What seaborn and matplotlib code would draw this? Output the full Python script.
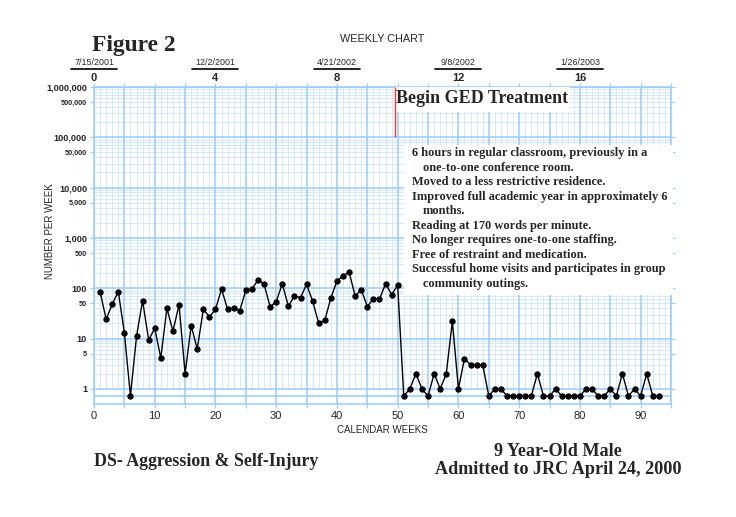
import numpy as np
import pandas as pd
import seaborn as sns
import matplotlib.pyplot as plt
from matplotlib.patches import Rectangle
from matplotlib.lines import Line2D

# ---------------- data ----------------
weeks = list(range(1, 94))
counts = [86, 24, 48, 86, 13, 0, 11, 57, 9.3, 16,
          4.1, 40, 14, 47, 2, 18, 6.2, 38, 27, 38,
          96, 38, 41, 36, 91, 96, 146, 120, 43, 54,
          123, 44, 70, 65, 120, 55, 20, 23, 64, 140,
          175, 210, 70, 94, 43, 62, 60, 123, 75, 114,
          0, 1, 2, 1, 0, 2, 1, 2, 22, 1,
          4, 3, 3, 3, 0, 1, 1, 0, 0, 0,
          0, 0, 2, 0, 0, 1, 0, 0, 0, 0,
          1, 1, 0, 0, 1, 0, 2, 0, 1, 0,
          2, 0, 0]
ZERO_ROW = 0.72          # zero counts are charted on the row below 1
PHASE_CHANGE_WEEK = 49.6

top_tick_weeks = [0, 20, 40, 60, 80]
top_tick_labels = ["0", "4", "8", "12", "16"]
top_dates = ["7/15/2001", "12/2/2001", "4/21/2002", "9/8/2002", "1/26/2003"]

y_ticks = [1, 5, 10, 50, 100, 500, 1000, 5000, 10000, 50000, 100000, 500000, 1000000]
y_tick_labels = ["1", "5", "10", "50", "100", "500", "1,000", "5,000", "10,000",
                 "50,000", "100,000", "500,000", "1,000,000"]
x_ticks = list(range(0, 100, 5))
x_tick_labels = [str(v) if v % 10 == 0 else "" for v in x_ticks]

notes = [("6 hours in regular classroom, previously in a", 0),
         ("one-to-one conference room.", 1),
         ("Moved to a less restrictive residence.", 0),
         ("Improved full academic year in approximately 6", 0),
         ("months.", 1),
         ("Reading at 170 words per minute.", 0),
         ("No longer requires one-to-one staffing.", 0),
         ("Free of restraint and medication.", 0),
         ("Successful home visits and participates in group", 0),
         ("community outings.", 1)]

# ---------------- style ----------------
sns.set_style("white")
plt.rcParams['font.family'] = ['Liberation Sans', 'DejaVu Sans']
SERIF = ['Liberation Serif', 'DejaVu Serif']
MAJ = '#99ccff'
MIN = '#d0e5fd'

W, H = 736, 517
fig = plt.figure(figsize=(W / 100, H / 100), dpi=100)
ax = fig.add_axes([94 / W, 1 - 404 / H, 577 / W, 317 / H])
ax.set_yscale('log')
ax.set_xlim(0, 95)
ax.set_ylim(0.5, 1e6)

# grid (semi-log chart paper)
minor_x = [w for w in range(1, 95) if w % 5 != 0]
major_x = [w for w in range(0, 96, 5)]
ax.vlines(minor_x, 1, 1e6, color=MIN, lw=0.6, zorder=1)
minor_y = [m * 10 ** d for d in range(0, 6) for m in range(2, 10)]
ax.hlines(minor_y, 0, 95, color=MIN, lw=0.6, zorder=1)
ax.vlines(major_x, 0.5, 1e6, color=MAJ, lw=1.1, zorder=1.5)
ax.hlines([10 ** d for d in range(0, 7)] + [ZERO_ROW], 0, 95, color=MAJ, lw=1.1, zorder=1.5)

for s in ax.spines.values():
    s.set_color(MAJ)
    s.set_linewidth(1.1)

# data
df = pd.DataFrame({"week": weeks, "count": counts})
df["charted"] = df["count"].where(df["count"] > 0, ZERO_ROW)
sns.lineplot(data=df, x="week", y="charted", color="black", marker="o",
             markersize=3.8, markeredgecolor="black", linewidth=1.0, ax=ax, zorder=5)
ax.set_xlabel("")
ax.set_ylabel("")

# phase change line
ax.vlines(PHASE_CHANGE_WEEK, 1e5, 1e6, color="#ff3333", lw=1.0, zorder=4)

# ticks
ax.set_xticks(x_ticks)
ax.set_xticklabels(x_tick_labels)
ax.set_yticks(y_ticks)
ax.set_yticklabels(y_tick_labels)
ax.minorticks_off()
ax.tick_params(axis='x', which='major', bottom=True, top=True, direction='out',
               length=3, color=MAJ, labelsize=8, pad=2)
ax.tick_params(axis='y', which='major', left=True, right=True, direction='out',
               length=3, color=MAJ, pad=2)
for lab, v in zip(ax.get_yticklabels(), y_ticks):
    lab.set_fontweight('bold')
    lab.set_fontsize(6.6 if str(int(v))[0] == '1' else 5.2)

# white boxes
ax.add_patch(Rectangle(((395 - 94) / 577, 1 - 25 / 317), 175 / 577, 25 / 317,
                       transform=ax.transAxes, facecolor='white', edgecolor='none', zorder=3))
ax.add_patch(Rectangle(((404 - 94) / 577, (404 - 295) / 317), 269 / 577, 150 / 317,
                       transform=ax.transAxes, facecolor='white', edgecolor='none',
                       zorder=3, clip_on=False))

def fx(px):
    return px / W

def fy(py):
    return 1 - py / H

fig.text(fx(396), fy(99), "Begin GED Treatment", family=SERIF, weight='bold',
         size=13, ha='left', va='center')
for i, (t, ind) in enumerate(notes):
    fig.text(fx(412 + 11 * ind), fy(153.3 + 14.5 * i), t, family=SERIF, weight='bold',
             size=8.9, ha='left', va='center')

# top axis
for w, lab, d in zip(top_tick_weeks, top_tick_labels, top_dates):
    xp = 94 + w * 577 / 95
    fig.text(fx(xp), fy(78), lab, weight='bold', size=8, ha='center', va='center')
    fig.text(fx(xp), fy(62.5), d, size=6.4, ha='center', va='center')
    fig.add_artist(Line2D([fx(xp - 23), fx(xp + 23)], [fy(68.5), fy(68.5)],
                          color='black', lw=1.2))
fig.text(fx(382), fy(39), "WEEKLY CHART", size=7.8, ha='center', va='center')

# labels
fig.text(fx(382), fy(430), "CALENDAR WEEKS", size=7, ha='center', va='center')
fig.text(fx(50), fy(231), "NUMBER PER WEEK", size=7, rotation=90, ha='center', va='center')
fig.text(fx(92), fy(45), "Figure 2", family=SERIF, weight='bold', size=16.9,
         ha='left', va='center')
fig.text(fx(94), fy(461), "DS- Aggression & Self-Injury", family=SERIF, weight='bold',
         size=12.9, ha='left', va='center')
fig.text(fx(558), fy(451), "9 Year-Old Male", family=SERIF, weight='bold',
         size=13.1, ha='center', va='center')
fig.text(fx(558), fy(470), "Admitted to JRC April 24, 2000", family=SERIF, weight='bold',
         size=13.1, ha='center', va='center')

fig.savefig("out.png", dpi=100, facecolor='white')
